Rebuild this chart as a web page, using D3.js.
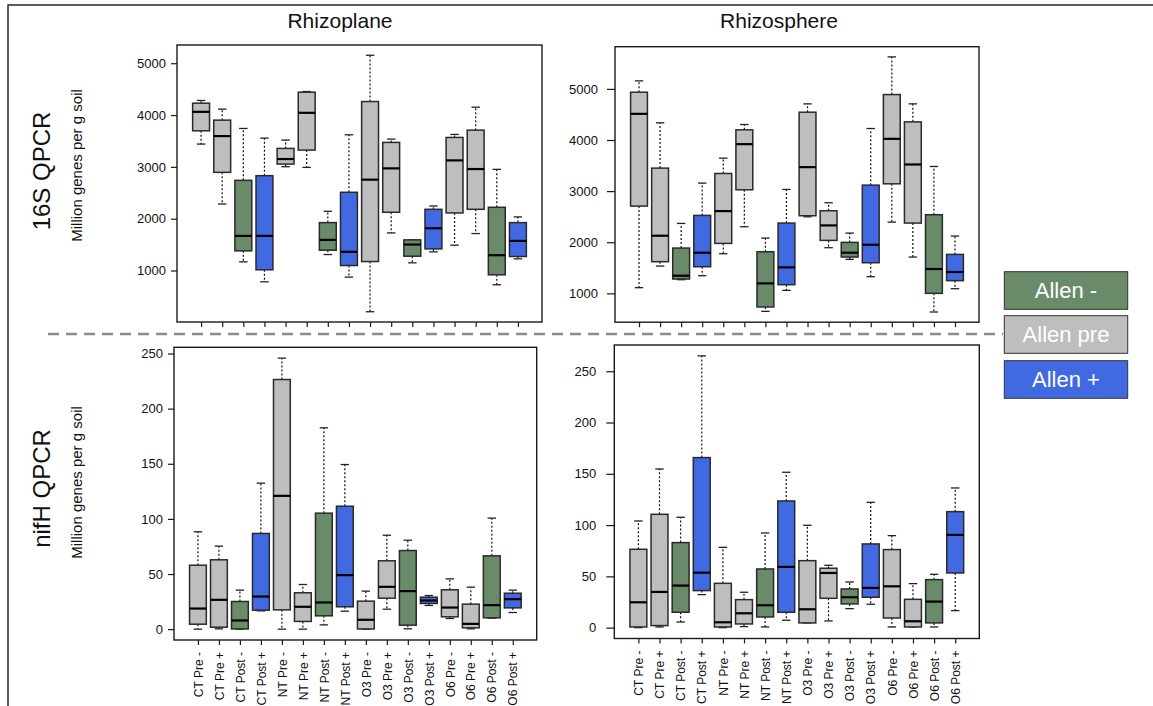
<!DOCTYPE html>
<html>
<head>
<meta charset="utf-8">
<script src="https://cdn.jsdelivr.net/npm/d3@7"></script>
<style>
  html, body { margin: 0; padding: 0; background: #fff; }
  svg { display: block; font-family: "Liberation Sans", Arial, Helvetica, sans-serif; }
</style>
</head>
<body>
<svg id="chart" width="1153" height="706"></svg>
<script>
// Treatment groups along the x axis of every panel
const categories = [
  "CT Pre -", "CT Pre +", "CT Post -", "CT Post +",
  "NT Pre -", "NT Pre +", "NT Post -", "NT Post +",
  "O3 Pre -", "O3 Pre +", "O3 Post -", "O3 Post +",
  "O6 Pre -", "O6 Pre +", "O6 Post -", "O6 Post +"
];

// Box statistics per group: [lower whisker, Q1, median, Q3, upper whisker]
const rhizoplane16S = [
  [3440, 3696, 4062, 4229, 4281],
  [2284, 2894, 3594, 3902, 4114],
  [1167, 1379, 1668, 2740, 3741],
  [782, 1013, 1668, 2830, 3555],
  [3003, 3054, 3151, 3356, 3517],
  [2990, 3324, 4043, 4441, 4454],
  [1308, 1392, 1591, 1924, 2143],
  [872, 1096, 1360, 2509, 3619],
  [204, 1173, 2753, 4261, 5154],
  [1725, 2124, 2971, 3472, 3536],
  [1148, 1276, 1501, 1591, 1591],
  [1360, 1417, 1815, 2181, 2245],
  [1488, 2111, 3125, 3568, 3626],
  [1713, 2181, 2958, 3709, 4152],
  [724, 917, 1295, 2220, 2952],
  [1225, 1270, 1571, 1924, 2034]
];

const rhizosphere16S = [
  [1111, 2707, 4512, 4935, 5157],
  [1534, 1619, 2127, 3450, 4336],
  [1267, 1280, 1345, 1886, 2368],
  [1345, 1521, 1795, 2525, 3157],
  [1775, 1977, 2609, 3345, 3645],
  [2303, 3026, 3919, 4199, 4303],
  [648, 733, 1195, 1814, 2081],
  [1059, 1169, 1508, 2375, 3033],
  [2498, 2518, 3469, 4544, 4707],
  [1893, 2036, 2329, 2616, 2772],
  [1665, 1710, 1795, 1997, 2179],
  [1326, 1599, 1951, 3117, 4225],
  [2394, 3143, 4023, 4889, 5626],
  [1710, 2375, 3521, 4355, 4707],
  [635, 1000, 1476, 2538, 3482],
  [1091, 1248, 1417, 1762, 2121]
];

const rhizoplaneNifH = [
  [0, 4.5, 18.7, 58.0, 88.3],
  [0.3, 1.8, 26.6, 62.9, 75.3],
  [0, 0.2, 7.9, 25.1, 35.4],
  [16.6, 17.2, 29.6, 86.8, 132.4],
  [0, 17.5, 120.9, 226.4, 245.8],
  [0, 7.0, 20.3, 33.0, 40.5],
  [3.9, 12.1, 24.2, 105.2, 182.6],
  [16.3, 20.3, 49.0, 111.5, 149.3],
  [0, 0.2, 8.5, 25.4, 34.5],
  [18.1, 28.1, 38.4, 62.0, 85.2],
  [0.3, 3.6, 34.5, 71.3, 80.7],
  [21.5, 23.3, 26.0, 29.0, 30.5],
  [9.7, 11.2, 19.6, 35.7, 45.6],
  [0.3, 1.2, 4.8, 22.7, 38.1],
  [10.0, 10.3, 21.8, 66.5, 100.7],
  [15.1, 19.3, 27.2, 32.6, 35.4]
];

const rhizosphereNifH = [
  [0, 0.65, 24.7, 76.4, 104.0],
  [0.65, 2.0, 34.8, 110.5, 154.7],
  [5.5, 15.0, 41.0, 82.9, 107.6],
  [32.2, 36.1, 53.6, 165.8, 265.0],
  [0, 0.65, 5.2, 43.2, 78.3],
  [1.0, 3.6, 14.0, 27.3, 34.5],
  [0.65, 10.4, 21.8, 57.2, 92.3],
  [7.2, 15.0, 59.2, 123.5, 151.5],
  [4.6, 4.6, 17.9, 65.3, 99.8],
  [6.5, 28.6, 53.3, 57.9, 60.8],
  [18.5, 23.1, 29.6, 37.7, 44.5],
  [22.8, 29.6, 38.7, 81.6, 122.2],
  [0.65, 9.4, 40.3, 76.1, 89.7],
  [0.65, 0.65, 6.2, 27.6, 42.9],
  [0.65, 4.6, 25.4, 46.8, 52.0],
  [16.6, 53.3, 90.4, 113.1, 136.2]
];

// Axis tick values
const ticks16S = [1000, 2000, 3000, 4000, 5000];
const ticksNifH = [0, 50, 100, 150, 200, 250];

// Legend entries
const legendLabels = ["Allen -", "Allen pre", "Allen +"];

const colorMinus = "#698B69";
const colorPre = "#BEBEBE";
const colorPlus = "#4169E1";
const legendColors = [colorMinus, colorPre, colorPlus];

function groupColor(name) {
  if (name.includes("Pre")) return colorPre;
  return name.endsWith("+") ? colorPlus : colorMinus;
}

const svg = d3.select("#chart");

// Outer frame (runs past the right and bottom edges)
svg.append("rect")
  .attr("x", 8).attr("y", 5).attr("width", 1170).attr("height", 730)
  .attr("fill", "none").attr("stroke", "#1a1a1a").attr("stroke-width", 1.4);

const panels = [
  { data: rhizoplane16S, ticks: ticks16S, x: 177, y: 45, w: 365, h: 277, tick: 6, gap: 11, labels: false },
  { data: rhizosphere16S, ticks: ticks16S, x: 615, y: 46.7, w: 364, h: 275.5, tick: 8, gap: 17, labels: false },
  { data: rhizoplaneNifH, ticks: ticksNifH, x: 174, y: 347.3, w: 362.7, h: 292.7, tick: 6, gap: 11, labels: true },
  { data: rhizosphereNifH, ticks: ticksNifH, x: 614.3, y: 345, w: 365, h: 293.5, tick: 8, gap: 18, labels: true }
];

panels.forEach(p => {
  const g = svg.append("g").attr("transform", `translate(${p.x},${p.y})`);
  const n = categories.length;
  // x range like R: 0.5..n+0.5 padded by 4%
  const xr = [0.5, n + 0.5];
  const xpad = (xr[1] - xr[0]) * 0.04;
  const x = d3.scaleLinear().domain([xr[0] - xpad, xr[1] + xpad]).range([0, p.w]);
  const lo = d3.min(p.data, d => d[0]);
  const hi = d3.max(p.data, d => d[4]);
  const ypad = (hi - lo) * 0.04;
  const y = d3.scaleLinear().domain([lo - ypad, hi + ypad]).range([p.h, 0]);

  const bw = 0.8;   // box width in category units
  const sw = 0.4;   // staple width

  const boxes = g.selectAll("g.box").data(p.data).join("g").attr("class", "box");

  // whiskers
  boxes.append("line")
    .attr("x1", (d, i) => x(i + 1)).attr("x2", (d, i) => x(i + 1))
    .attr("y1", d => y(d[3])).attr("y2", d => y(d[4]))
    .attr("stroke", "#111").attr("stroke-width", 1.2).attr("stroke-dasharray", "2,2");
  boxes.append("line")
    .attr("x1", (d, i) => x(i + 1)).attr("x2", (d, i) => x(i + 1))
    .attr("y1", d => y(d[1])).attr("y2", d => y(d[0]))
    .attr("stroke", "#111").attr("stroke-width", 1.2).attr("stroke-dasharray", "2,2");
  // staples
  [0, 4].forEach(k => {
    boxes.append("line")
      .attr("x1", (d, i) => x(i + 1 - sw / 2)).attr("x2", (d, i) => x(i + 1 + sw / 2))
      .attr("y1", d => y(d[k])).attr("y2", d => y(d[k]))
      .attr("stroke", "#222").attr("stroke-width", 1.3);
  });
  // boxes
  boxes.append("rect")
    .attr("x", (d, i) => x(i + 1 - bw / 2))
    .attr("width", x(bw) - x(0))
    .attr("y", d => y(d[3]))
    .attr("height", d => Math.max(0.5, y(d[1]) - y(d[3])))
    .attr("fill", (d, i) => groupColor(categories[i]))
    .attr("stroke", "#2a2a2a").attr("stroke-width", 1.5);
  // medians
  boxes.append("line")
    .attr("x1", (d, i) => x(i + 1 - bw / 2)).attr("x2", (d, i) => x(i + 1 + bw / 2))
    .attr("y1", d => y(d[2])).attr("y2", d => y(d[2]))
    .attr("stroke", "#000").attr("stroke-width", 2.2);

  // plot frame
  g.append("rect").attr("width", p.w).attr("height", p.h)
    .attr("fill", "none").attr("stroke", "#1a1a1a").attr("stroke-width", 1.4);

  // y axis
  const ya = g.append("g")
    .call(d3.axisLeft(y).tickValues(p.ticks).tickFormat(d3.format("d"))
      .tickSize(p.tick).tickPadding(p.gap - p.tick));
  ya.select(".domain").remove();
  ya.selectAll("line").attr("stroke", "#1a1a1a").attr("stroke-width", 1.2);
  ya.selectAll("text").attr("font-size", 13).attr("fill", "#111")
    .attr("font-family", "'Liberation Sans', Arial, sans-serif");

  // x axis
  const xa = g.append("g").attr("transform", `translate(0,${p.h})`)
    .call(d3.axisBottom(x).tickValues(d3.range(1, n + 1)).tickSize(5)
      .tickFormat(i => p.labels ? categories[i - 1] : ""));
  xa.select(".domain").remove();
  xa.selectAll("line").attr("stroke", "#1a1a1a").attr("stroke-width", 1.2);
  xa.selectAll("text")
    .attr("transform", "rotate(-90)")
    .attr("text-anchor", "end")
    .attr("x", -12).attr("y", 0).attr("dy", "0.35em")
    .attr("font-size", 12).attr("fill", "#111")
    .attr("font-family", "'Liberation Sans', Arial, sans-serif");
});

// column titles
svg.append("text").attr("x", 340).attr("y", 28).attr("text-anchor", "middle")
  .attr("font-size", 21).attr("fill", "#111").text("Rhizoplane");
svg.append("text").attr("x", 779).attr("y", 28).attr("text-anchor", "middle")
  .attr("font-size", 21).attr("fill", "#111").text("Rhizosphere");

// row titles and y-axis labels
const rowTitles = [
  { text: "16S QPCR", cy: 171, sub: 165.5 },
  { text: "nifH QPCR", cy: 488.5, sub: 482.5 }
];
rowTitles.forEach(r => {
  svg.append("text")
    .attr("transform", `translate(50,${r.cy}) rotate(-90)`)
    .attr("text-anchor", "middle").attr("font-size", 24).attr("fill", "#111")
    .text(r.text);
  svg.append("text")
    .attr("transform", `translate(82,${r.sub}) rotate(-90)`)
    .attr("text-anchor", "middle").attr("font-size", 15).attr("fill", "#111")
    .text("Million genes per g soil");
});

// divider between the two gene rows
svg.append("line")
  .attr("x1", 48).attr("x2", 1003).attr("y1", 334).attr("y2", 334)
  .attr("stroke", "#8a8a8a").attr("stroke-width", 2.6).attr("stroke-dasharray", "11,7");

// legend
const legend = svg.append("g");
legendLabels.forEach((lab, i) => {
  const ly = [271.7, 315.7, 360.7][i];
  legend.append("rect")
    .attr("x", 1004.3).attr("y", ly).attr("width", 123.4).attr("height", 37.6)
    .attr("fill", legendColors[i]).attr("stroke", "#333").attr("stroke-width", 1);
  legend.append("text")
    .attr("x", 1066).attr("y", ly + 18.8).attr("dy", "0.35em")
    .attr("text-anchor", "middle").attr("font-size", 22).attr("fill", "#fff")
    .text(lab);
});
</script>
</body>
</html>
